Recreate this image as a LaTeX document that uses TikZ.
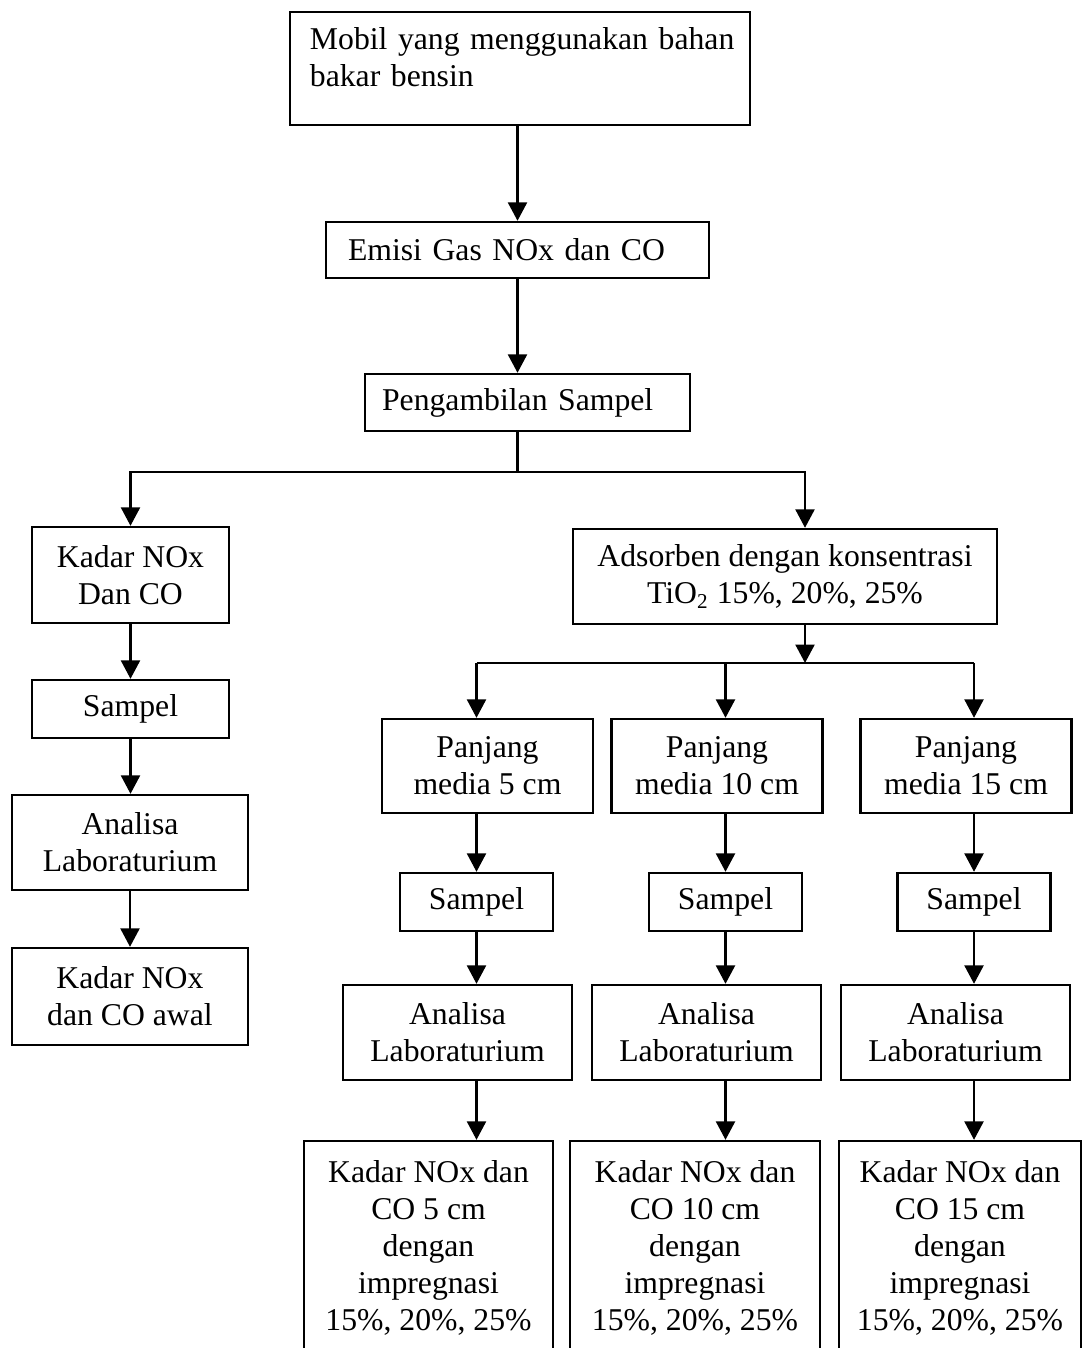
\documentclass[tikz,border=0pt]{standalone}
\usepackage{fontspec}
\setmainfont{Liberation Serif}
\usetikzlibrary{calc, arrows.meta}

\begin{document}
\begin{tikzpicture}[x=0.3785pt, y=-0.3785pt,
    font=\fontsize{12}{14}\selectfont,
    kotak/.style={draw, line width=0.9pt, align=center, inner sep=0pt},
    ukuran/.style 2 args={minimum width=#1*0.3785pt, minimum height=#2*0.3785pt},
    garis/.style={line width=0.9pt},
    panah/.style={line width=0.9pt, -{Triangle[length=7pt, width=7.2pt]}}]
    % 画布大小（与原图比例一致）
    \useasboundingbox (0,0) rectangle (1082,1348);

    % --- 主流程：上部三个框 ---
    \node[kotak, align=left, inner xsep=7.57pt, text width=159pt,
          text height=14.4pt, text depth=28.4pt] (mobil) at (520,68.5)
        {\mbox{Mobil yang menggunakan bahan}\\\mbox{bakar bensin}};
    \node[kotak, align=left, inner xsep=8.33pt, text width=128.3pt,
          minimum height=56*0.3785pt] (emisi) at (517.5,250)
        {\mbox{Emisi Gas NOx dan CO}};
    \node[kotak, align=left, inner xsep=6.43pt, text width=110.1pt,
          minimum height=57*0.3785pt] (ambil) at (527.5,402.5)
        {\mbox{Pengambilan Sampel}};

    % --- 左列：初始浓度 ---
    \node[kotak, ukuran={197}{96}] (kadar) at (130.5,575) {Kadar NOx\\Dan CO};
    \node[kotak, ukuran={197}{58}] (sampel) at (130.5,709) {Sampel};
    \node[kotak, ukuran={236}{95}] (analisa) at (130,842.5) {Analisa\\Laboraturium};
    \node[kotak, ukuran={236}{97}] (awal) at (130,996.5) {Kadar NOx\\dan CO awal};

    % --- 右列：吸附剂与三种长度 ---
    \node[kotak, ukuran={424}{95}] (adsorben) at (785,576.5)
        {Adsorben dengan konsentrasi\\TiO\textsubscript{2} 15\%, 20\%, 25\%};
    \foreach \n/\xp/\xs/\xa/\xk/\wk in {5/487.5/476.5/457.5/428.5/249,
                                       10/717/725.5/706.5/695/250,
                                       15/966/974/955.5/960/242} {
        \node[kotak, ukuran={211}{94}] (p\n) at (\xp,766) {Panjang\\media \n\ cm};
        \node[kotak, ukuran={153}{58}] (s\n) at (\xs,902) {Sampel};
        \node[kotak, ukuran={229}{95}] (a\n) at (\xa,1032.5) {Analisa\\Laboraturium};
        \node[kotak, ukuran={\wk}{214}] (k\n) at (\xk,1248)
            {Kadar NOx dan\\CO \n\ cm\\dengan\\impregnasi\\15\%, 20\%, 25\%};
    }

    % --- 连线 ---
    \coordinate (cabang) at (517.5,472);
    \coordinate (garpu) at (805,663);

    \draw[panah] (mobil.south -| emisi.north) -- (emisi.north);
    \draw[panah] (emisi.south) -- (emisi.south |- ambil.north);
    \draw[garis] (emisi.south |- ambil.south) -- (cabang);
    \draw[panah] (cabang) -| (kadar.north);
    \draw[panah] (cabang) -| ($(adsorben.north)+(20,0)$);

    \draw[panah] (kadar) -- (sampel);
    \draw[panah] (sampel.south) -- (sampel.south |- analisa.north);
    \draw[panah] (analisa) -- (awal);

    \draw[panah] ($(adsorben.south)+(20,0)$) -- (garpu);
    \draw[garis] (garpu -| s5) -- (garpu -| s15);
    \foreach \n in {5,10,15} {
        \draw[panah] (garpu -| s\n) -- (s\n |- p\n.north);
        \draw[panah] (s\n |- p\n.south) -- (s\n.north);
        \draw[panah] (s\n.south) -- (s\n |- a\n.north);
        \draw[panah] (s\n |- a\n.south) -- (s\n |- k\n.north);
    }

\end{tikzpicture}
\end{document}
